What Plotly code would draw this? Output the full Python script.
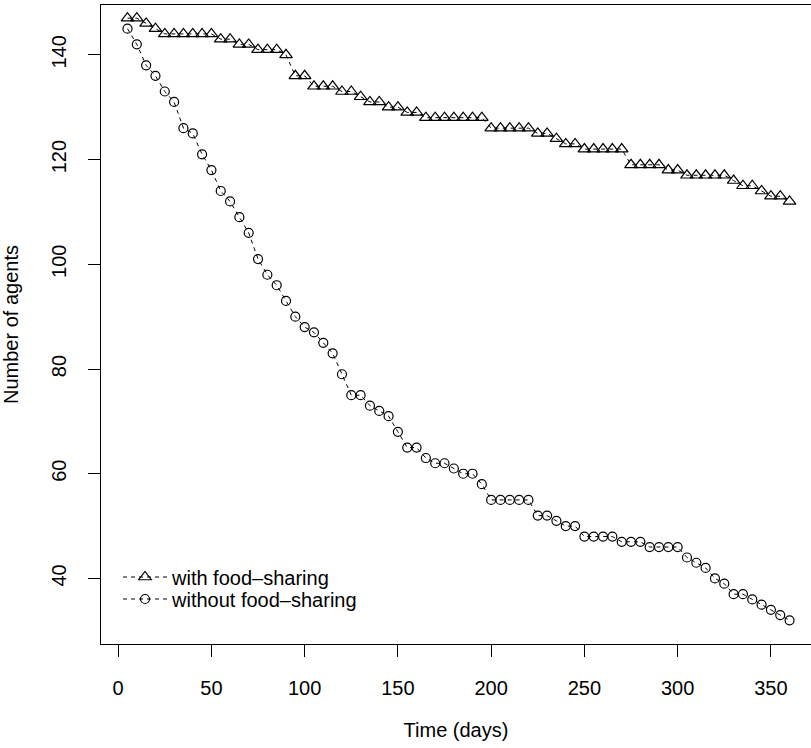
import plotly.graph_objects as go

# ---- data ----
days = [5, 10, 15, 20, 25, 30, 35, 40, 45, 50, 55, 60, 65, 70, 75, 80, 85, 90,
        95, 100, 105, 110, 115, 120, 125, 130, 135, 140, 145, 150, 155, 160,
        165, 170, 175, 180, 185, 190, 195, 200, 205, 210, 215, 220, 225, 230,
        235, 240, 245, 250, 255, 260, 265, 270, 275, 280, 285, 290, 295, 300,
        305, 310, 315, 320, 325, 330, 335, 340, 345, 350, 355, 360]

with_sharing = [147, 147, 146, 145, 144, 144, 144, 144, 144, 144, 143, 143,
                142, 142, 141, 141, 141, 140, 136, 136, 134, 134, 134, 133,
                133, 132, 131, 131, 130, 130, 129, 129, 128, 128, 128, 128,
                128, 128, 128, 126, 126, 126, 126, 126, 125, 125, 124, 123,
                123, 122, 122, 122, 122, 122, 119, 119, 119, 119, 118, 118,
                117, 117, 117, 117, 117, 116, 115, 115, 114, 113, 113, 112]

without_sharing = [145, 142, 138, 136, 133, 131, 126, 125, 121, 118, 114, 112,
                   109, 106, 101, 98, 96, 93, 90, 88, 87, 85, 83, 79,
                   75, 75, 73, 72, 71, 68, 65, 65, 63, 62, 62, 61,
                   60, 60, 58, 55, 55, 55, 55, 55, 52, 52, 51, 50,
                   50, 48, 48, 48, 48, 47, 47, 47, 46, 46, 46, 46,
                   44, 43, 42, 40, 39, 37, 37, 36, 35, 34, 33, 32]

series_names = ["with food\u2013sharing", "without food\u2013sharing"]
x_ticks = [0, 50, 100, 150, 200, 250, 300, 350]
y_ticks = [40, 60, 80, 100, 120, 140]
x_title = "Time (days)"
y_title = "Number of agents"

assert len(days) == len(with_sharing) == len(without_sharing)

FONT = "Liberation Sans, Arial, Helvetica, sans-serif"
FS = 20
W, H = 811, 748
ML, MR, MT, MB = 101, 0, 5, 104
plot_w = W - ML - MR
plot_h = H - MT - MB

fig = go.Figure()
fig.add_trace(go.Scatter(
    x=days, y=with_sharing, mode="lines+markers", name=series_names[0],
    line=dict(color="black", width=1, dash="4px,4px"),
    marker=dict(symbol="triangle-up-open", size=11, color="black",
                line=dict(width=1.2, color="black")),
    legend="legend",
))
fig.add_trace(go.Scatter(
    x=days, y=without_sharing, mode="lines+markers", name=series_names[1],
    line=dict(color="black", width=1, dash="4px,4px"),
    marker=dict(symbol="circle-open", size=9, color="black",
                line=dict(width=1.2, color="black")),
    legend="legend2",
))

def ppy(px):  # pixel row -> paper y
    return (H - MB - px) / plot_h

def ppx(px):
    return (px - ML) / plot_w

legend_common = dict(bgcolor="rgba(0,0,0,0)", borderwidth=0,
                     font=dict(family=FONT, size=FS, color="black"),
                     xanchor="left", yanchor="middle", itemwidth=44)

fig.update_layout(
    width=W, height=H,
    margin=dict(l=ML, r=MR, t=MT, b=MB, pad=0),
    paper_bgcolor="white", plot_bgcolor="white",
    font=dict(family=FONT, size=FS, color="black"),
    legend=dict(x=ppx(118), y=ppy(577), **legend_common),
    legend2=dict(x=ppx(118), y=ppy(599), **legend_common),
    showlegend=True,
)

fig.update_xaxes(
    range=[-9.2, -9.2 + plot_w / 1.865],
    tickvals=x_ticks, ticktext=[str(v) for v in x_ticks],
    ticks="outside", ticklen=12, tickwidth=1, tickcolor="black",
    showline=True, linecolor="black", linewidth=1, mirror=True,
    showgrid=False, zeroline=False, automargin=False,
    tickfont=dict(family=FONT, size=FS, color="black"),
    ticklabelstandoff=14,
    title=dict(text=x_title, font=dict(family=FONT, size=FS, color="black"),
               standoff=24),
)
fig.update_yaxes(
    range=[27.48, 149.52],
    tickvals=y_ticks, ticktext=[str(v) for v in y_ticks],
    ticks="outside", ticklen=12, tickwidth=1, tickcolor="black",
    showline=True, linecolor="black", linewidth=1, mirror=False,
    showgrid=False, zeroline=False, automargin=False,
    tickangle=-90,
    tickfont=dict(family=FONT, size=FS, color="black"),
    ticklabelstandoff=14,
    title=dict(text=y_title, font=dict(family=FONT, size=FS, color="black"),
               standoff=28),
)

fig.write_html(
    "out.html",
    config={"displayModeBar": False},
    post_script="document.body.style.margin='0';document.body.style.overflow='hidden';",
)
